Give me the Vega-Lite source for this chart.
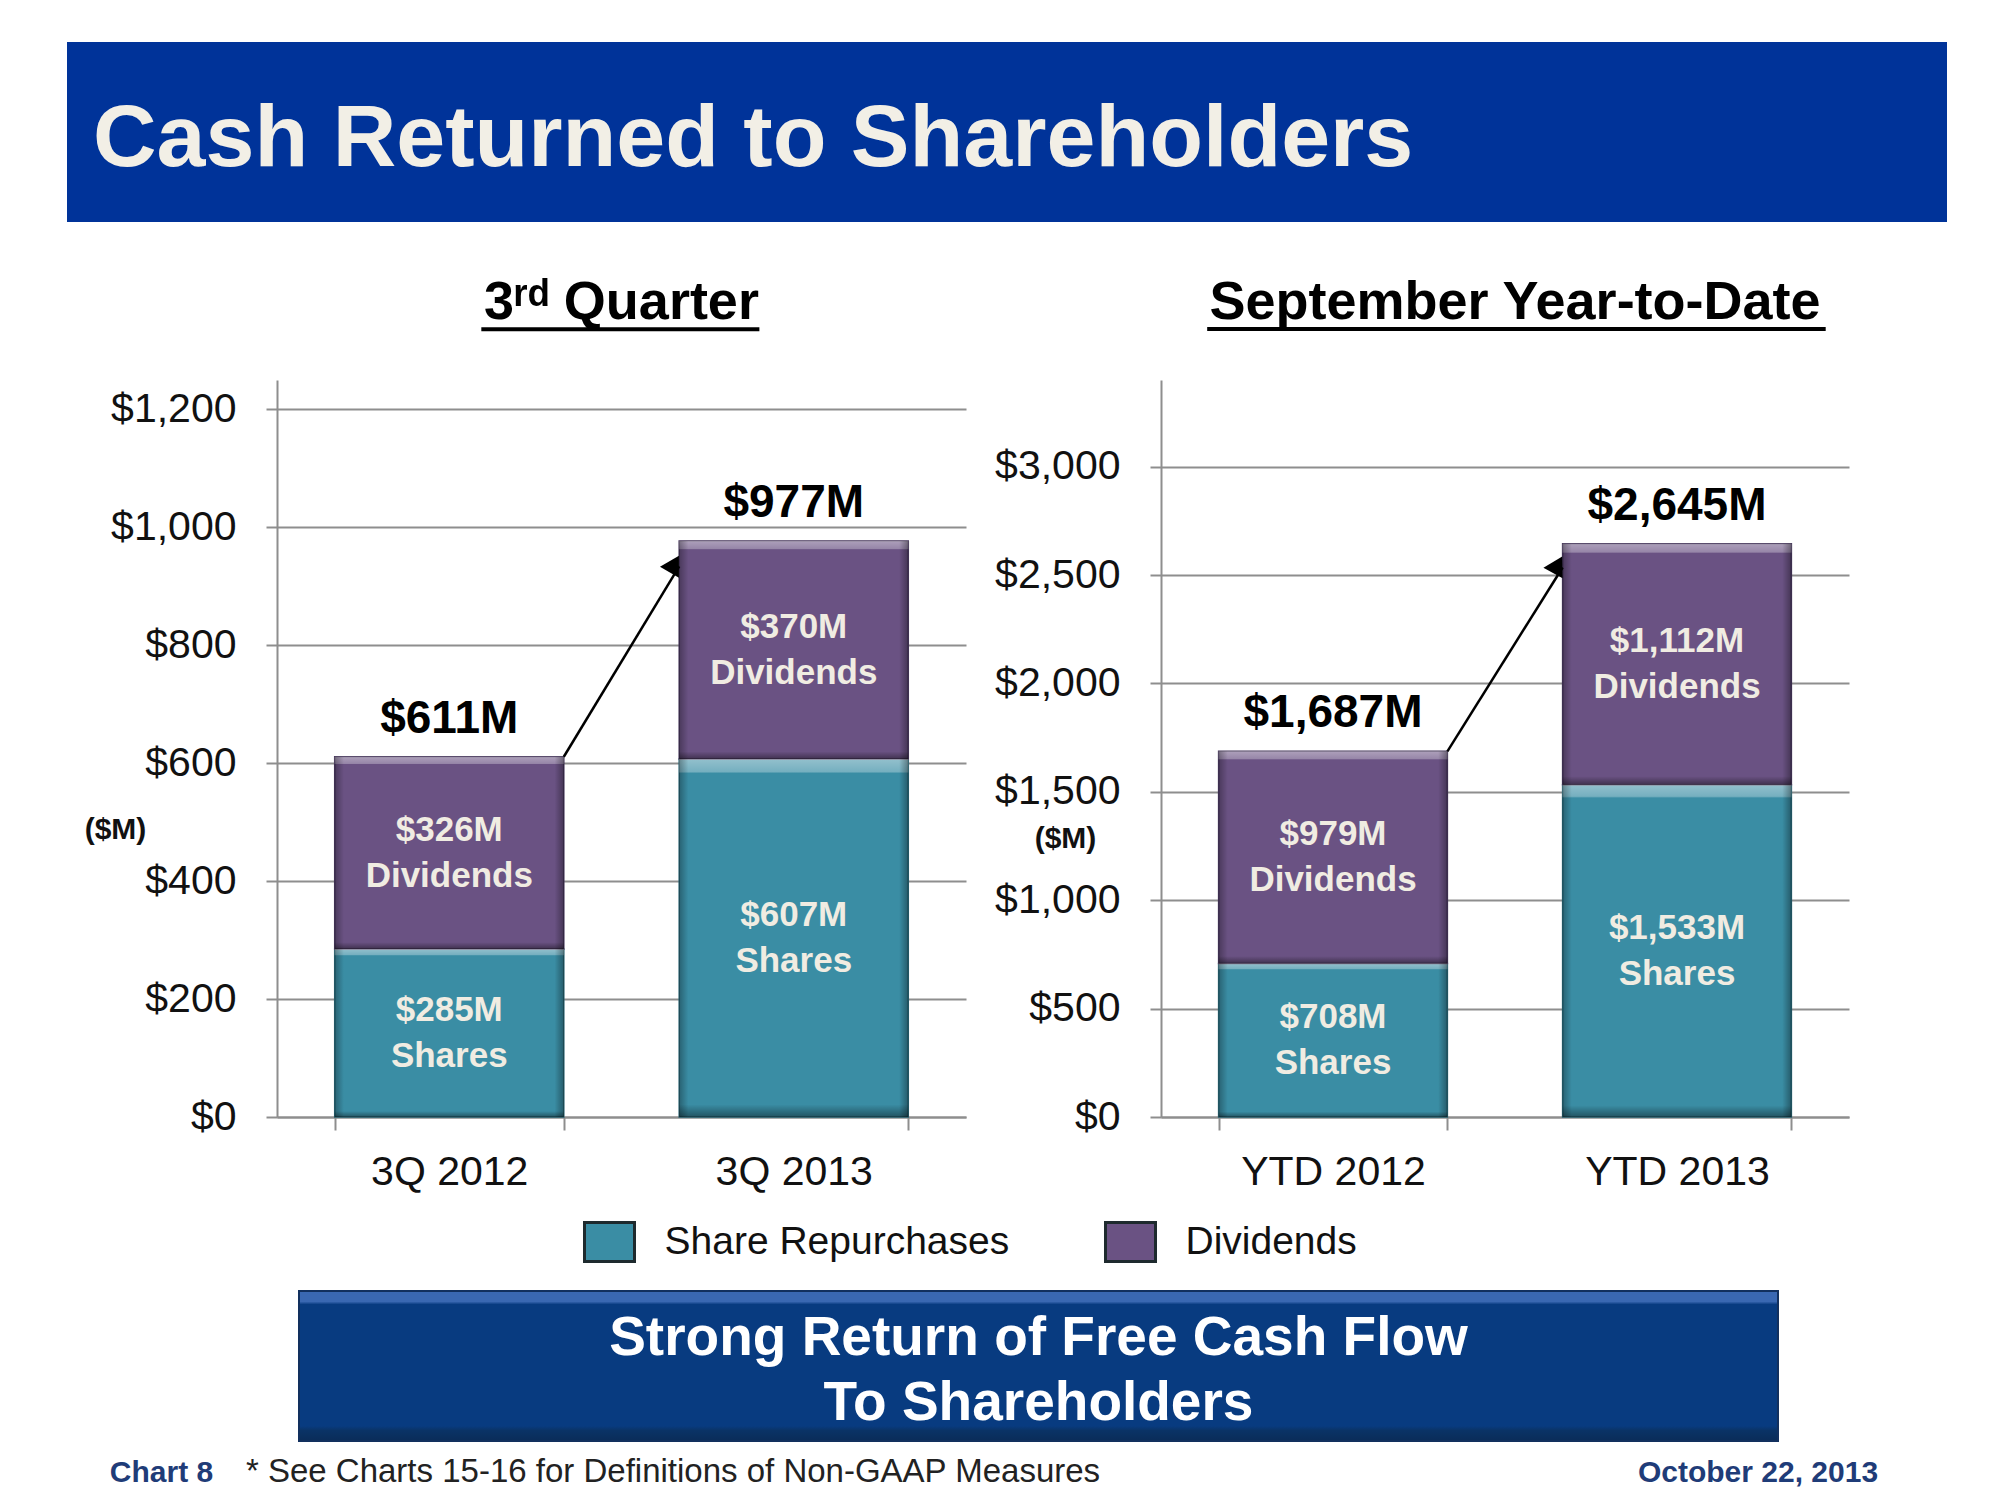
{
  "$schema": "https://vega.github.io/schema/vega-lite/v6.json",
  "padding": {"left": 67, "top": 42, "right": 53, "bottom": 0},
  "autosize": {"type": "pad"},
  "background": "#ffffff",
  "bounds": "flush",
  "spacing": 0,
  "config": {
    "font": "Liberation Sans",
    "view": {"stroke": null},
    "text": {"font": "Liberation Sans"},
    "title": {"font": "Liberation Sans"},
    "axis": {"labelFont": "Liberation Sans", "titleFont": "Liberation Sans"}
  },
  "datasets": {
    "quarter": [
      {"period": "3Q 2012", "series": "Share Repurchases", "order": 1, "value": 285, "label": "$285M\nShares"},
      {"period": "3Q 2012", "series": "Dividends", "order": 2, "value": 326, "label": "$326M\nDividends"},
      {"period": "3Q 2013", "series": "Share Repurchases", "order": 1, "value": 607, "label": "$607M\nShares"},
      {"period": "3Q 2013", "series": "Dividends", "order": 2, "value": 370, "label": "$370M\nDividends"}
    ],
    "quarterTotals": [
      {"period": "3Q 2012", "total": 611, "label": "$611M"},
      {"period": "3Q 2013", "total": 977, "label": "$977M"}
    ],
    "quarterArrow": [
      {"from": "3Q 2012", "to": "3Q 2013", "start": 611, "end": 934, "head": 938}
    ],
    "ytd": [
      {"period": "YTD 2012", "series": "Share Repurchases", "order": 1, "value": 708, "label": "$708M\nShares"},
      {"period": "YTD 2012", "series": "Dividends", "order": 2, "value": 979, "label": "$979M\nDividends"},
      {"period": "YTD 2013", "series": "Share Repurchases", "order": 1, "value": 1533, "label": "$1,533M\nShares"},
      {"period": "YTD 2013", "series": "Dividends", "order": 2, "value": 1112, "label": "$1,112M\nDividends"}
    ],
    "ytdTotals": [
      {"period": "YTD 2012", "total": 1687, "label": "$1,687M"},
      {"period": "YTD 2013", "total": 2645, "label": "$2,645M"}
    ],
    "ytdArrow": [
      {"from": "YTD 2012", "to": "YTD 2013", "start": 1687, "end": 2535, "head": 2548}
    ],
    "legendItems": [
      {"series": "Share Repurchases"},
      {"series": "Dividends"}
    ]
  },
  "vconcat": [
    {
      "width": 1880,
      "height": 180,
      "title": {
        "text": "Cash Returned to Shareholders",
        "anchor": "start",
        "dx": 26,
        "offset": -212,
        "baseline": "alphabetic",
        "fontSize": 88,
        "fontWeight": "bold",
        "color": "#F2EFE6"
      },
      "data": {"values": [{}]},
      "mark": {"type": "rect", "color": "#003399"},
      "encoding": {}
    },
    {"width": 1, "height": 158, "data": {"values": []}, "mark": "rect", "encoding": {}},
    {
      "hconcat": [
        {"width": 15, "height": 737, "data": {"values": []}, "mark": "rect", "encoding": {}},
        {
          "width": 689,
          "height": 737,
          "title": {
            "text": "3ʳᵈ Quarter",
            "frame": "group",
            "anchor": "middle",
            "baseline": "alphabetic",
            "offset": -46,
            "fontSize": 54,
            "fontWeight": "bold",
            "color": "#000000"
          },
          "layer": [
            {
              "data": {"name": "quarter"},
              "mark": {"type": "bar", "strokeWidth": 1.5},
              "encoding": {
                "x": {
                  "field": "period", "type": "nominal", "sort": null,
                  "scale": {"paddingInner": 0.335, "paddingOuter": 0.1675},
                  "axis": {
                    "title": null, "labelAngle": 0, "labelFontSize": 41, "labelColor": "#111111", "labelLimit": 400,
                    "labelPadding": 22, "tickBand": "extent", "tickSize": 13, "tickColor": "#8E8E8E",
                    "tickWidth": 2, "domainColor": "#8E8E8E", "domainWidth": 2
                  }
                },
                "y": {
                  "field": "value", "type": "quantitative", "stack": "zero",
                  "scale": {"domain": [0, 1250], "nice": false},
                  "axis": {
                    "title": "($M)", "titleAngle": 0, "titleX": -162, "titleY": 449,
                    "titleAlign": "center", "titleBaseline": "middle", "titleFontSize": 30,
                    "titleFontWeight": "bold", "titleColor": "#111111",
                    "values": [0, 200, 400, 600, 800, 1000, 1200], "format": "$,.0f",
                    "labelFontSize": 41, "labelColor": "#111111", "labelPadding": 30,
                    "tickSize": 11, "tickColor": "#8E8E8E", "tickWidth": 2,
                    "grid": true, "gridColor": "#8E8E8E", "gridWidth": 2,
                    "domainColor": "#8E8E8E", "domainWidth": 2
                  }
                },
                "color": {
                  "field": "series", "type": "nominal",
                  "scale": {"domain": ["Share Repurchases", "Dividends"], "range": ["#3A8DA4", "#6A5283"]},
                  "legend": null
                },
                "stroke": {
                  "field": "series", "type": "nominal",
                  "scale": {"domain": ["Share Repurchases", "Dividends"], "range": ["#25606F", "#45355A"]},
                  "legend": null
                },
                "order": {"field": "order", "type": "quantitative"}
              }
            },
            {
              "data": {"name": "quarter"},
              "mark": {
                "type": "bar",
                "color": {
                  "gradient": "linear", "x1": 0, "y1": 0, "x2": 0, "y2": 1,
                  "stops": [
                    {"offset": 0, "color": "rgba(255,255,255,0.45)"},
                    {"offset": 0.035, "color": "rgba(255,255,255,0.3)"},
                    {"offset": 0.04, "color": "rgba(255,255,255,0)"},
                    {"offset": 0.965, "color": "rgba(0,0,0,0)"},
                    {"offset": 1, "color": "rgba(0,0,0,0.4)"}
                  ]
                }
              },
              "encoding": {
                "x": {"field": "period", "type": "nominal", "sort": null},
                "y": {"field": "value", "type": "quantitative", "stack": "zero"},
                "detail": {"field": "series", "type": "nominal"},
                "order": {"field": "order", "type": "quantitative"}
              }
            },
            {
              "data": {"name": "quarter"},
              "mark": {
                "type": "bar",
                "color": {
                  "gradient": "linear", "x1": 0, "y1": 0, "x2": 1, "y2": 0,
                  "stops": [
                    {"offset": 0, "color": "rgba(0,0,0,0.3)"},
                    {"offset": 0.04, "color": "rgba(0,0,0,0)"},
                    {"offset": 0.96, "color": "rgba(0,0,0,0)"},
                    {"offset": 1, "color": "rgba(0,0,0,0.35)"}
                  ]
                }
              },
              "encoding": {
                "x": {"field": "period", "type": "nominal", "sort": null},
                "y": {"field": "value", "type": "quantitative", "stack": "zero"},
                "detail": {"field": "series", "type": "nominal"},
                "order": {"field": "order", "type": "quantitative"}
              }
            },
            {
              "data": {"name": "quarter"},
              "mark": {
                "type": "text", "lineBreak": "\n", "lineHeight": 46, "fontSize": 35,
                "fontWeight": "bold", "color": "#F0ECE2", "baseline": "middle", "align": "center", "dy": -23
              },
              "encoding": {
                "x": {"field": "period", "type": "nominal", "sort": null},
                "y": {"field": "value", "type": "quantitative", "stack": "zero", "bandPosition": 0.5},
                "detail": {"field": "series", "type": "nominal"},
                "order": {"field": "order", "type": "quantitative"},
                "text": {"field": "label", "type": "nominal"}
              }
            },
            {
              "data": {"name": "quarterTotals"},
              "mark": {"type": "text", "fontSize": 46, "fontWeight": "bold", "color": "#000000", "baseline": "alphabetic", "dy": -24},
              "encoding": {
                "x": {"field": "period", "type": "nominal", "sort": null},
                "y": {"field": "total", "type": "quantitative"},
                "text": {"field": "label", "type": "nominal"}
              }
            },
            {
              "data": {"name": "quarterArrow"},
              "mark": {"type": "rule", "strokeWidth": 2.5, "color": "#000000"},
              "encoding": {
                "x": {"field": "from", "type": "nominal", "bandPosition": 1},
                "x2": {"field": "to", "bandPosition": 0},
                "y": {"field": "start", "type": "quantitative"},
                "y2": {"field": "end"}
              }
            },
            {
              "data": {"name": "quarterArrow"},
              "mark": {"type": "point", "shape": "triangle-up", "filled": true, "opacity": 1, "color": "#000000", "size": 480, "angle": 30, "xOffset": -5},
              "encoding": {
                "x": {"field": "to", "type": "nominal", "bandPosition": 0},
                "y": {"field": "head", "type": "quantitative"}
              }
            },
            {
              "data": {"values": [{}]},
              "mark": {"type": "rule", "strokeWidth": 4, "color": "#000000"},
              "encoding": {
                "x": {"datum": "3Q 2012", "bandPosition": 0.64},
                "x2": {"datum": "3Q 2013", "bandPosition": 0.35},
                "y": {"datum": 1336}
              }
            }
          ]
        },
        {
          "width": 688,
          "height": 737,
          "title": {
            "text": "September Year-to-Date",
            "frame": "group",
            "anchor": "middle",
            "baseline": "alphabetic",
            "offset": -46,
            "dx": 10,
            "fontSize": 54,
            "fontWeight": "bold",
            "color": "#000000"
          },
          "layer": [
            {
              "data": {"name": "ytd"},
              "mark": {"type": "bar", "strokeWidth": 1.5},
              "encoding": {
                "x": {
                  "field": "period", "type": "nominal", "sort": null,
                  "scale": {"paddingInner": 0.335, "paddingOuter": 0.1675},
                  "axis": {
                    "title": null, "labelAngle": 0, "labelFontSize": 41, "labelColor": "#111111", "labelLimit": 400,
                    "labelPadding": 22, "tickBand": "extent", "tickSize": 13, "tickColor": "#8E8E8E",
                    "tickWidth": 2, "domainColor": "#8E8E8E", "domainWidth": 2
                  }
                },
                "y": {
                  "field": "value", "type": "quantitative", "stack": "zero",
                  "scale": {"domain": [0, 3400], "nice": false},
                  "axis": {
                    "title": "($M)", "titleAngle": 0, "titleX": -96, "titleY": 458,
                    "titleAlign": "center", "titleBaseline": "middle", "titleFontSize": 30,
                    "titleFontWeight": "bold", "titleColor": "#111111",
                    "values": [0, 500, 1000, 1500, 2000, 2500, 3000], "format": "$,.0f",
                    "labelFontSize": 41, "labelColor": "#111111", "labelPadding": 30,
                    "tickSize": 11, "tickColor": "#8E8E8E", "tickWidth": 2,
                    "grid": true, "gridColor": "#8E8E8E", "gridWidth": 2,
                    "domainColor": "#8E8E8E", "domainWidth": 2
                  }
                },
                "color": {
                  "field": "series", "type": "nominal",
                  "scale": {"domain": ["Share Repurchases", "Dividends"], "range": ["#3A8DA4", "#6A5283"]},
                  "legend": null
                },
                "stroke": {
                  "field": "series", "type": "nominal",
                  "scale": {"domain": ["Share Repurchases", "Dividends"], "range": ["#25606F", "#45355A"]},
                  "legend": null
                },
                "order": {"field": "order", "type": "quantitative"}
              }
            },
            {
              "data": {"name": "ytd"},
              "mark": {
                "type": "bar",
                "color": {
                  "gradient": "linear", "x1": 0, "y1": 0, "x2": 0, "y2": 1,
                  "stops": [
                    {"offset": 0, "color": "rgba(255,255,255,0.45)"},
                    {"offset": 0.035, "color": "rgba(255,255,255,0.3)"},
                    {"offset": 0.04, "color": "rgba(255,255,255,0)"},
                    {"offset": 0.965, "color": "rgba(0,0,0,0)"},
                    {"offset": 1, "color": "rgba(0,0,0,0.4)"}
                  ]
                }
              },
              "encoding": {
                "x": {"field": "period", "type": "nominal", "sort": null},
                "y": {"field": "value", "type": "quantitative", "stack": "zero"},
                "detail": {"field": "series", "type": "nominal"},
                "order": {"field": "order", "type": "quantitative"}
              }
            },
            {
              "data": {"name": "ytd"},
              "mark": {
                "type": "bar",
                "color": {
                  "gradient": "linear", "x1": 0, "y1": 0, "x2": 1, "y2": 0,
                  "stops": [
                    {"offset": 0, "color": "rgba(0,0,0,0.3)"},
                    {"offset": 0.04, "color": "rgba(0,0,0,0)"},
                    {"offset": 0.96, "color": "rgba(0,0,0,0)"},
                    {"offset": 1, "color": "rgba(0,0,0,0.35)"}
                  ]
                }
              },
              "encoding": {
                "x": {"field": "period", "type": "nominal", "sort": null},
                "y": {"field": "value", "type": "quantitative", "stack": "zero"},
                "detail": {"field": "series", "type": "nominal"},
                "order": {"field": "order", "type": "quantitative"}
              }
            },
            {
              "data": {"name": "ytd"},
              "mark": {
                "type": "text", "lineBreak": "\n", "lineHeight": 46, "fontSize": 35,
                "fontWeight": "bold", "color": "#F0ECE2", "baseline": "middle", "align": "center", "dy": -23
              },
              "encoding": {
                "x": {"field": "period", "type": "nominal", "sort": null},
                "y": {"field": "value", "type": "quantitative", "stack": "zero", "bandPosition": 0.5},
                "detail": {"field": "series", "type": "nominal"},
                "order": {"field": "order", "type": "quantitative"},
                "text": {"field": "label", "type": "nominal"}
              }
            },
            {
              "data": {"name": "ytdTotals"},
              "mark": {"type": "text", "fontSize": 46, "fontWeight": "bold", "color": "#000000", "baseline": "alphabetic", "dy": -24},
              "encoding": {
                "x": {"field": "period", "type": "nominal", "sort": null},
                "y": {"field": "total", "type": "quantitative"},
                "text": {"field": "label", "type": "nominal"}
              }
            },
            {
              "data": {"name": "ytdArrow"},
              "mark": {"type": "rule", "strokeWidth": 2.5, "color": "#000000"},
              "encoding": {
                "x": {"field": "from", "type": "nominal", "bandPosition": 1},
                "x2": {"field": "to", "bandPosition": 0},
                "y": {"field": "start", "type": "quantitative"},
                "y2": {"field": "end"}
              }
            },
            {
              "data": {"name": "ytdArrow"},
              "mark": {"type": "point", "shape": "triangle-up", "filled": true, "opacity": 1, "color": "#000000", "size": 480, "angle": 29, "xOffset": -5},
              "encoding": {
                "x": {"field": "to", "type": "nominal", "bandPosition": 0},
                "y": {"field": "head", "type": "quantitative"}
              }
            },
            {
              "data": {"values": [{}]},
              "mark": {"type": "rule", "strokeWidth": 4, "color": "#000000"},
              "encoding": {
                "x": {"datum": "YTD 2012", "bandPosition": -0.05},
                "x2": {"datum": "YTD 2013", "bandPosition": 1.15},
                "y": {"datum": 3635}
              }
            }
          ]
        }
      ],
      "spacing": 195,
      "bounds": "flush",
      "resolve": {"scale": {"x": "independent", "y": "independent"}}
    },
    {"width": 1, "height": 832, "data": {"values": []}, "mark": "rect", "encoding": {}},
    {
      "hconcat": [
        {"width": 282, "height": 60, "data": {"values": []}, "mark": "rect", "encoding": {}},
        {
          "width": 1042,
          "height": 60,
          "data": {"name": "legendItems"},
          "layer": [
            {
              "mark": {"type": "point", "shape": "M-1,-0.78H1V0.78H-1Z", "filled": true, "opacity": 1, "size": 2500, "stroke": "#1E2A2E", "strokeWidth": 3},
              "encoding": {
                "x": {"field": "series", "type": "nominal", "sort": null, "scale": {"type": "point", "padding": 0.5}, "axis": null},
                "color": {
                  "field": "series", "type": "nominal",
                  "scale": {"domain": ["Share Repurchases", "Dividends"], "range": ["#3A8DA4", "#6A5283"]},
                  "legend": null
                }
              }
            },
            {
              "mark": {"type": "text", "align": "left", "baseline": "middle", "dx": 55, "fontSize": 39, "color": "#111111"},
              "encoding": {
                "x": {"field": "series", "type": "nominal", "sort": null, "scale": {"type": "point", "padding": 0.5}, "axis": null},
                "text": {"field": "series", "type": "nominal"}
              }
            }
          ]
        }
      ],
      "spacing": 0,
      "bounds": "flush"
    },
    {"width": 1, "height": 79, "data": {"values": []}, "mark": "rect", "encoding": {}},
    {
      "hconcat": [
        {"width": 232, "height": 150, "data": {"values": []}, "mark": "rect", "encoding": {}},
        {
          "width": 1479,
          "height": 150,
          "data": {"values": [{"msg": "Strong Return of Free Cash Flow\nTo Shareholders"}]},
          "layer": [
            {
              "mark": {
                "type": "rect",
                "stroke": "#12305E",
                "strokeWidth": 2,
                "color": {
                  "gradient": "linear", "x1": 0, "y1": 0, "x2": 0, "y2": 1,
                  "stops": [
                    {"offset": 0, "color": "#3A68B2"},
                    {"offset": 0.07, "color": "#3A68B2"},
                    {"offset": 0.09, "color": "#083B80"},
                    {"offset": 0.9, "color": "#083B80"},
                    {"offset": 0.93, "color": "#0A3366"},
                    {"offset": 1, "color": "#0A2C58"}
                  ]
                }
              },
              "encoding": {}
            },
            {
              "mark": {"type": "text", "lineBreak": "\n", "lineHeight": 65, "fontSize": 55, "fontWeight": "bold", "color": "#FFFFFF", "align": "center", "baseline": "alphabetic", "dy": -11},
              "encoding": {"text": {"field": "msg", "type": "nominal"}}
            }
          ]
        }
      ],
      "spacing": 0,
      "bounds": "flush"
    },
    {"width": 1, "height": 150, "data": {"values": []}, "mark": "rect", "encoding": {}},
    {
      "hconcat": [
        {"width": 44, "height": 51, "data": {"values": []}, "mark": "rect", "encoding": {}},
        {
          "width": 101, "height": 51,
          "data": {"values": [{"t": "Chart 8"}]},
          "mark": {"type": "text", "fontSize": 30, "fontWeight": "bold", "color": "#1F3C78", "align": "center", "baseline": "alphabetic", "dy": 15},
          "encoding": {"text": {"field": "t", "type": "nominal"}}
        },
        {"width": 30, "height": 51, "data": {"values": []}, "mark": "rect", "encoding": {}},
        {
          "width": 862, "height": 51,
          "data": {"values": [{"t": "* See Charts 15-16 for Definitions of Non-GAAP Measures"}]},
          "mark": {"type": "text", "fontSize": 33, "color": "#222222", "align": "center", "baseline": "alphabetic", "dy": 15},
          "encoding": {"text": {"field": "t", "type": "nominal"}}
        },
        {"width": 534, "height": 51, "data": {"values": []}, "mark": "rect", "encoding": {}},
        {
          "width": 240, "height": 51,
          "data": {"values": [{"t": "October 22, 2013"}]},
          "mark": {"type": "text", "fontSize": 30, "fontWeight": "bold", "color": "#1F3C78", "align": "center", "baseline": "alphabetic", "dy": 15},
          "encoding": {"text": {"field": "t", "type": "nominal"}}
        }
      ],
      "spacing": 0,
      "bounds": "flush"
    }
  ]
}
